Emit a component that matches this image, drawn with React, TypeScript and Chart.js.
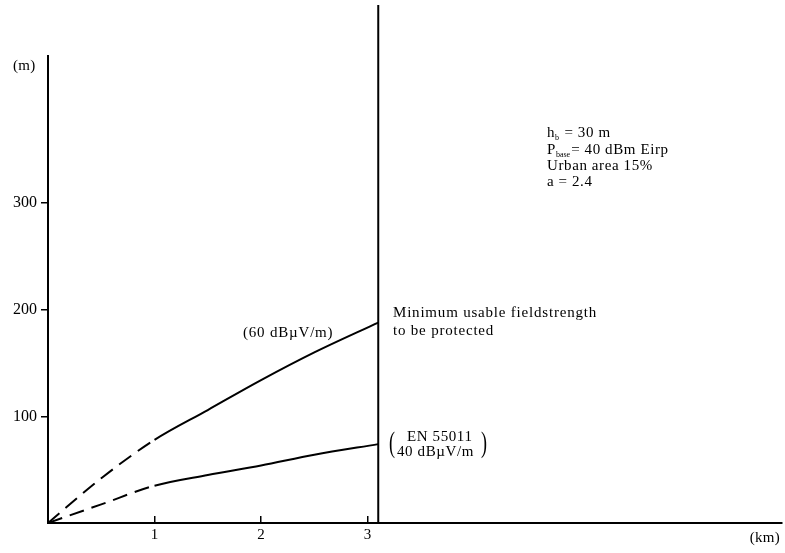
import React, { useEffect, useRef } from 'react';
import { Chart, registerables } from 'chart.js';

Chart.register(...registerables);

// Data
const distanceKm = [0, 0.5, 1.0, 1.5, 2.0, 2.5, 3.1];
const height60 = [0, 42, 78, 106, 134, 160, 188]; // 60 dBµV/m curve
const height40 = [0, 17.5, 35, 45, 54, 64, 74]; // EN 55011 40 dBµV/m curve
const dashedUntilKm = 1.0;
const xTickValues = [1, 2, 3];
const yTickValues = [100, 200, 300];
const limitKm = 3.1;
const xMax = 6.89;
const yMax = 486;
const yAxisTop = 439;

const FONT = '"Liberation Serif", "Times New Roman", serif';

const textPlugin = {
  id: 'textPlugin',
  afterDraw(chart: any) {
    const ctx = chart.ctx as CanvasRenderingContext2D;
    ctx.save();
    ctx.fillStyle = '#000';
    ctx.textBaseline = 'middle';
    const setFont = (size: number, spacing = 0) => {
      ctx.font = `${size}px ${FONT}`;
      (ctx as any).letterSpacing = `${spacing}px`;
    };
    const draw = (t: string, x: number, y: number, align: CanvasTextAlign = 'left') => {
      ctx.textAlign = align;
      ctx.fillText(t, x, y);
    };
    // axis units
    setFont(15, 0.3);
    draw('(m)', 13, 66);
    draw('(km)', 780, 538, 'right');
    // curve labels
    setFont(15, 0.8);
    draw('(60 dBµV/m)', 243, 333);
    draw('Minimum usable fieldstrength', 393, 313);
    draw('to be protected', 393, 331);
    // EN 55011 block
    setFont(15, 0.6);
    draw('EN 55011', 407, 437);
    draw('40 dBµV/m', 397, 452);
    setFont(30, 0);
    ctx.save();
    ctx.translate(392, 444);
    ctx.scale(0.6, 1);
    draw('(', 0, 0, 'center');
    ctx.restore();
    ctx.save();
    ctx.translate(484, 444);
    ctx.scale(0.6, 1);
    draw(')', 0, 0, 'center');
    ctx.restore();
    // parameter block
    const left = 547;
    setFont(15, 0.6);
    let x = left;
    ctx.textAlign = 'left';
    ctx.fillText('h', x, 133);
    x += ctx.measureText('h').width;
    setFont(8, 0);
    ctx.fillText('b', x, 138);
    x += ctx.measureText('b').width + 1;
    setFont(15, 0.6);
    ctx.fillText(' = 30 m', x, 133);

    x = left;
    ctx.fillText('P', x, 150);
    x += ctx.measureText('P').width;
    setFont(8, 0);
    ctx.fillText('base', x, 155);
    x += ctx.measureText('base').width + 1;
    setFont(15, 0.6);
    ctx.fillText('= 40 dBm Eirp', x, 150);

    ctx.fillText('Urban area 15%', left, 166);
    ctx.fillText('a = 2.4', left, 182);
    ctx.restore();
  },
};

export default function App() {
  const ref = useRef<HTMLCanvasElement | null>(null);

  useEffect(() => {
    if (!ref.current) return;
    const dash = (c: any) => (c.p1.parsed.x <= dashedUntilKm ? [15, 8] : undefined);
    const chart = new Chart(ref.current, {
      type: 'line',
      data: {
        datasets: [
          {
            label: '60 dBµV/m',
            data: distanceKm.map((d, i) => ({ x: d, y: height60[i] })),
            borderColor: '#000',
            borderWidth: 2,
            pointRadius: 0,
            cubicInterpolationMode: 'monotone',
            segment: { borderDash: dash },
          },
          {
            label: 'EN 55011 40 dBµV/m',
            data: distanceKm.map((d, i) => ({ x: d, y: height40[i] })),
            borderColor: '#000',
            borderWidth: 2,
            pointRadius: 0,
            cubicInterpolationMode: 'monotone',
            segment: { borderDash: dash },
          },
          {
            label: 'y axis',
            data: [
              { x: 0, y: 0 },
              { x: 0, y: yAxisTop },
            ],
            borderColor: '#000',
            borderWidth: 2,
            pointRadius: 0,
            clip: false,
          },
          {
            label: 'limit',
            data: [
              { x: limitKm, y: 0 },
              { x: limitKm, y: yMax },
            ],
            borderColor: '#000',
            borderWidth: 2,
            pointRadius: 0,
            clip: false,
          },
        ],
      } as any,
      options: {
        animation: false,
        responsive: false,
        layout: { padding: { top: 5, right: 3, left: 0, bottom: 0 } },
        plugins: { legend: { display: false }, tooltip: { enabled: false } },
        scales: {
          x: {
            type: 'linear',
            min: 0,
            max: xMax,
            afterBuildTicks: (s: any) => {
              s.ticks = xTickValues.map((v) => ({ value: v }));
            },
            afterFit: (s: any) => {
              s.height = 30;
              s.paddingLeft = 0;
              s.paddingRight = 0;
              s.paddingTop = 0;
              s.paddingBottom = 0;
            },
            border: { display: true, color: '#000', width: 2 },
            grid: {
              drawOnChartArea: false,
              drawTicks: true,
              tickLength: -7,
              color: '#000',
              lineWidth: 1.5,
            },
            ticks: {
              autoSkip: false,
              maxRotation: 0,
              padding: 10,
              color: '#000',
              font: { family: FONT, size: 15 },
              callback: (v: any) => String(v),
            },
          },
          y: {
            type: 'linear',
            min: 0,
            max: yMax,
            afterBuildTicks: (s: any) => {
              s.ticks = yTickValues.map((v) => ({ value: v }));
            },
            afterFit: (s: any) => {
              s.width = 48;
              s.paddingLeft = 0;
              s.paddingRight = 0;
              s.paddingTop = 0;
              s.paddingBottom = 0;
            },
            border: { display: false },
            grid: {
              drawOnChartArea: false,
              drawTicks: true,
              tickLength: 7,
              color: '#000',
              lineWidth: 1.5,
            },
            ticks: {
              autoSkip: false,
              padding: 4,
              color: '#000',
              font: { family: FONT, size: 16 },
              callback: (v: any) => String(v),
            },
          },
        },
      } as any,
      plugins: [textPlugin],
    });
    return () => chart.destroy();
  }, []);

  return (
    <div style={{ position: 'absolute', left: 0, top: 0, width: 785, height: 553, background: '#fff' }}>
      <canvas ref={ref} width={785} height={553} style={{ width: 785, height: 553, display: 'block' }} />
    </div>
  );
}
